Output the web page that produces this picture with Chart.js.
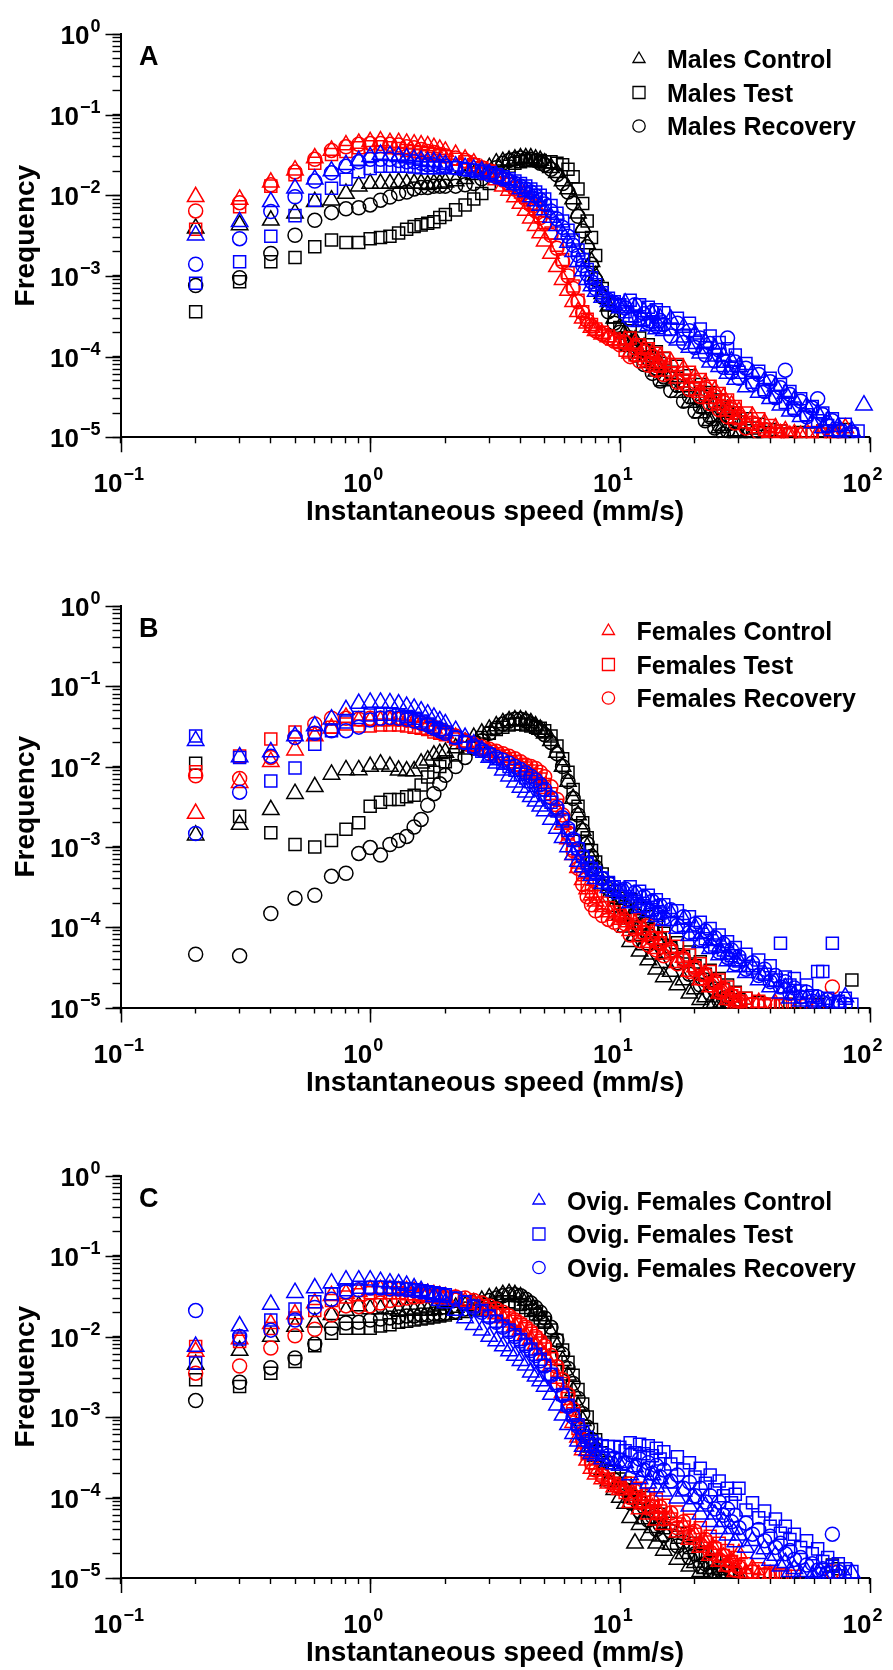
<!DOCTYPE html>
<html>
<head>
<meta charset="utf-8">
<script src="https://cdn.jsdelivr.net/npm/chart.js@4.4.1/dist/chart.umd.min.js"></script>
<style>
  html, body { margin: 0; padding: 0; background: #fff; }
  #wrap { position: relative; width: 893px; height: 1670px; }
  #wrap canvas { position: absolute; left: 0; }
</style>
</head>
<body>
<div id="wrap">
  <canvas id="chartA" width="893" height="560" style="top:0px"></canvas>
  <canvas id="chartB" width="893" height="560" style="top:570px"></canvas>
  <canvas id="chartC" width="893" height="530" style="top:1140px"></canvas>
</div>
<script>
// ----- speed classes (mm/s), shared by every series -----
const speeds = [
  0.2, 0.3, 0.4, 0.5, 0.6, 0.7, 0.8, 0.9, 1.0, 1.1, 1.2, 1.3, 1.4, 1.5, 1.6, 1.7, 1.8, 1.9, 2.0,
  2.2, 2.4, 2.6, 2.8, 3.0, 3.2, 3.4, 3.6, 3.8, 4.0, 4.2, 4.4, 4.6, 4.8, 5.0,
  5.3, 5.6, 5.9, 6.2, 6.5, 6.8, 7.1, 7.4, 7.7, 8.0,
  8.5, 9.0, 9.5, 10,
  10.5, 11, 11.5, 12, 12.5, 13, 13.5, 14, 14.5,
  15, 16, 17, 18, 19, 20, 21, 22, 23, 24, 25, 26, 27, 28, 29, 30,
  32, 34, 36, 38, 40, 42, 44, 46, 48, 50,
  53, 56, 59, 62, 65, 68, 71,
  75, 80, 85, 90, 95
];

// axis decades (10^n)
const xDecades = [-1, 0, 1, 2];
const yDecades = [-5, -4, -3, -2, -1, 0];

// ----- legends -----
const legendA = ['Males Control', 'Males Test', 'Males Recovery'];
const legendB = ['Females Control', 'Females Test', 'Females Recovery'];
const legendC = ['Ovig. Females Control', 'Ovig. Females Test', 'Ovig. Females Recovery'];

// ===== Panel A =====
const blackTriA = [
  3.9e-3, 4.3e-3, 4.9e-3, 6.0e-3, 8.3e-3, 8.7e-3, 1.05e-2, 1.3e-2, 1.4e-2, 1.4e-2, 1.4e-2, 1.45e-2, 1.4e-2, 1.4e-2, 1.4e-2, 1.35e-2, 1.4e-2, 1.4e-2, 1.45e-2,
  1.5e-2, 1.6e-2, 1.8e-2, 2.0e-2, 2.2e-2, 2.5e-2, 2.6e-2, 2.7e-2, 2.8e-2, 2.9e-2, 2.9e-2, 2.9e-2, 2.8e-2, 2.7e-2, 2.5e-2,
  2.2e-2, 1.9e-2, 1.5e-2, 1.2e-2, 9e-3, 6e-3, 4e-3, 2.5e-3, 1.5e-3, 1.0e-3,
  6e-4, 4.2e-4, 3e-4, 2.3e-4,
  2.0e-4, 1.4e-4, 1.6e-4, 1.1e-4, 1.3e-4, 8.4e-5, 1.0e-4, 6.6e-5, 7.8e-5,
  5.0e-5, 5.6e-5, 3.6e-5, 4.2e-5, 2.7e-5, 3.0e-5, 2.0e-5, 2.3e-5, 1.6e-5, 1.8e-5, 1.3e-5, 1.4e-5, 2.2e-5, 1.15e-5, 1.2e-5, 1.1e-5,
  1.05e-5, 1.1e-5, null, 1.05e-5, null, null, null, null, null, null,
  null, null, null, null, null, null, null,
  null, null, null, null, null
];
const blackSqA = [
  3.6e-4, 8.5e-4, 1.5e-3, 1.7e-3, 2.3e-3, 2.8e-3, 2.6e-3, 2.6e-3, 2.9e-3, 3.0e-3, 3.1e-3, 3.4e-3, 3.8e-3, 4.1e-3, 4.3e-3, 4.5e-3, 4.7e-3, 5.3e-3, 5.8e-3,
  6.6e-3, 7.6e-3, 9e-3, 1.05e-2, 1.4e-2, 1.75e-2, 2.0e-2, 2.3e-2, 2.5e-2, 2.6e-2, 2.7e-2, 2.7e-2, 2.7e-2, 2.7e-2, 2.6e-2,
  2.6e-2, 2.5e-2, 2.4e-2, 2.1e-2, 1.7e-2, 1.2e-2, 7.9e-3, 4.8e-3, 3e-3, 1.8e-3,
  7e-4, 4.5e-4, 3.1e-4, 2.3e-4,
  1.7e-4, 2.1e-4, 1.4e-4, 1.7e-4, 1.2e-4, 1.4e-4, 9.8e-5, 1.15e-4, 8.2e-5,
  9.5e-5, 6.4e-5, 7.6e-5, 5.0e-5, 5.8e-5, 4.0e-5, 4.5e-5, 3.2e-5, 3.6e-5, 2.6e-5, 2.9e-5, 2.1e-5, 2.4e-5, 1.8e-5, 2.0e-5, 1.55e-5,
  1.7e-5, 1.3e-5, 1.45e-5, 1.15e-5, 1.25e-5, 1.1e-5, 1.2e-5, null, 1.1e-5, null,
  1.15e-5, null, 1.1e-5, null, 1.2e-5, null, 1.1e-5,
  1.2e-5, 1.25e-5, null, null, null
];
const blackCircA = [
  7.6e-4, 9.5e-4, 1.9e-3, 3.2e-3, 4.9e-3, 6.1e-3, 6.8e-3, 7.0e-3, 7.6e-3, 8.7e-3, 9.5e-3, 1.05e-2, 1.1e-2, 1.2e-2, 1.25e-2, 1.25e-2, 1.3e-2, 1.3e-2, 1.3e-2,
  1.3e-2, 1.35e-2, 1.4e-2, 1.6e-2, 1.9e-2, 2.2e-2, 2.5e-2, 2.7e-2, 2.8e-2, 2.9e-2, 2.8e-2, 2.8e-2, 2.7e-2, 2.5e-2, 2.4e-2,
  2.1e-2, 1.8e-2, 1.4e-2, 1.1e-2, 8e-3, 5.5e-3, 3.6e-3, 2.3e-3, 1.4e-3, 9e-4,
  5.5e-4, 3.6e-4, 2.6e-4, 2e-4,
  1.4e-4, 1.7e-4, 1.05e-4, 1.25e-4, 8.0e-5, 9.4e-5, 6.2e-5, 7.2e-5, 5.0e-5,
  5.6e-5, 3.8e-5, 4.4e-5, 2.8e-5, 3.2e-5, 2.1e-5, 2.4e-5, 1.6e-5, 1.8e-5, 1.3e-5, 1.4e-5, 1.1e-5, 1.2e-5, null, 1.1e-5, null,
  null, null, null, null, null, null, null, null, null, null,
  null, null, null, null, null, null, null,
  null, null, null, null, null
];
const redTriA = [
  9.6e-3, 8.9e-3, 1.45e-2, 2.05e-2, 2.9e-2, 3.6e-2, 4.2e-2, 4.4e-2, 4.6e-2, 4.7e-2, 4.5e-2, 4.5e-2, 4.4e-2, 4.3e-2, 4.2e-2, 4.1e-2, 3.9e-2, 3.7e-2, 3.5e-2,
  3.2e-2, 2.8e-2, 2.5e-2, 2.1e-2, 1.8e-2, 1.55e-2, 1.3e-2, 1.15e-2, 9.5e-3, 7.9e-3, 6.5e-3, 5.2e-3, 4.2e-3, 3.4e-3, 2.7e-3,
  1.9e-3, 1.3e-3, 9e-4, 6.6e-4, 4.8e-4, 3.6e-4, 3.0e-4, 2.6e-4, 2.3e-4, 2.1e-4,
  1.9e-4, 1.75e-4, 1.6e-4, 1.5e-4,
  1.6e-4, 1.1e-4, 1.45e-4, 1.0e-4, 1.25e-4, 8.6e-5, 1.1e-4, 7.6e-5, 9.8e-5,
  6.6e-5, 8.6e-5, 5.4e-5, 7.0e-5, 4.4e-5, 5.6e-5, 3.6e-5, 4.6e-5, 3.0e-5, 3.8e-5, 2.5e-5, 3.1e-5, 2.1e-5, 2.5e-5, 1.7e-5, 2.1e-5,
  1.5e-5, 1.8e-5, 1.3e-5, 1.5e-5, 1.15e-5, 1.3e-5, 1.1e-5, 1.2e-5, 1.05e-5, 1.1e-5,
  1.05e-5, 1.15e-5, null, 1.1e-5, 1.05e-5, null, 1.1e-5,
  1.1e-5, 1.3e-5, null, null, null
];
const redSqA = [
  3.8e-3, 7.2e-3, 1.3e-2, 1.8e-2, 2.5e-2, 3.2e-2, 3.5e-2, 3.9e-2, 4.0e-2, 4.0e-2, 3.9e-2, 3.8e-2, 3.6e-2, 3.5e-2, 3.4e-2, 3.3e-2, 3.2e-2, 3.1e-2, 3.0e-2,
  2.8e-2, 2.6e-2, 2.4e-2, 2.2e-2, 2.0e-2, 1.8e-2, 1.6e-2, 1.4e-2, 1.25e-2, 1.1e-2, 9.5e-3, 8e-3, 6.8e-3, 5.6e-3, 4.6e-3,
  3.4e-3, 2.4e-3, 1.6e-3, 1.1e-3, 7.5e-4, 5e-4, 3.6e-4, 2.9e-4, 2.5e-4, 2.2e-4,
  2.0e-4, 1.8e-4, 1.65e-4, 1.5e-4,
  1.2e-4, 1.7e-4, 1.05e-4, 1.4e-4, 9.4e-5, 1.25e-4, 8.4e-5, 1.1e-4, 7.6e-5,
  9.6e-5, 6.2e-5, 8.0e-5, 5.0e-5, 6.4e-5, 4.0e-5, 5.2e-5, 3.4e-5, 4.3e-5, 2.8e-5, 3.5e-5, 2.4e-5, 2.9e-5, 2.0e-5, 2.4e-5, 1.7e-5,
  2.0e-5, 1.45e-5, 1.7e-5, 1.25e-5, 1.4e-5, 1.1e-5, 1.2e-5, null, 1.1e-5, null,
  1.1e-5, null, 1.15e-5, null, 1.1e-5, null, null,
  null, null, 1.1e-5, null, null
];
const redCircA = [
  6.4e-3, 8.1e-3, 1.35e-2, 1.95e-2, 2.8e-2, 3.6e-2, 4.0e-2, 4.3e-2, 4.4e-2, 4.4e-2, 4.3e-2, 4.2e-2, 4.0e-2, 3.9e-2, 3.7e-2, 3.5e-2, 3.4e-2, 3.2e-2, 3.1e-2,
  2.9e-2, 2.7e-2, 2.4e-2, 2.2e-2, 2.0e-2, 1.75e-2, 1.55e-2, 1.35e-2, 1.2e-2, 1.05e-2, 9e-3, 7.6e-3, 6.4e-3, 5.3e-3, 4.4e-3,
  3.2e-3, 2.2e-3, 1.5e-3, 1.0e-3, 7e-4, 4.8e-4, 3.5e-4, 2.8e-4, 2.4e-4, 2.1e-4,
  1.9e-4, 1.7e-4, 1.55e-4, 1.4e-4,
  1.5e-4, 1.0e-4, 1.3e-4, 8.8e-5, 1.15e-4, 7.8e-5, 1.0e-4, 6.8e-5, 8.8e-5,
  6.0e-5, 7.8e-5, 4.8e-5, 6.2e-5, 3.9e-5, 4.9e-5, 3.2e-5, 4.0e-5, 2.6e-5, 3.2e-5, 2.2e-5, 2.7e-5, 1.8e-5, 2.2e-5, 1.5e-5, 1.8e-5,
  1.3e-5, 1.5e-5, 1.15e-5, 1.25e-5, null, 1.1e-5, null, null, 1.1e-5, null,
  null, null, null, null, null, null, 1.1e-5,
  null, null, null, null, null
];
const blueTriA = [
  3.2e-3, 4.7e-3, 8.3e-3, 1.22e-2, 1.58e-2, 2.0e-2, 2.4e-2, 2.7e-2, 3.0e-2, 3.2e-2, 3.1e-2, 3.0e-2, 2.9e-2, 2.8e-2, 2.7e-2, 2.6e-2, 2.6e-2, 2.5e-2, 2.4e-2,
  2.3e-2, 2.2e-2, 2.1e-2, 2.0e-2, 1.85e-2, 1.75e-2, 1.6e-2, 1.5e-2, 1.35e-2, 1.2e-2, 1.1e-2, 9.5e-3, 8.5e-3, 7.5e-3, 6.6e-3,
  5.3e-3, 4.2e-3, 3.3e-3, 2.6e-3, 2.0e-3, 1.5e-3, 1.15e-3, 9e-4, 7.5e-4, 6.4e-4,
  5.4e-4, 4.8e-4, 4.4e-4, 4.0e-4,
  4.6e-4, 3.1e-4, 4.0e-4, 2.7e-4, 3.6e-4, 2.4e-4, 3.3e-4, 2.2e-4, 3.0e-4,
  2.1e-4, 2.9e-4, 1.6e-4, 2.3e-4, 1.3e-4, 1.9e-4, 1.1e-4, 1.5e-4, 8.5e-5, 1.25e-4, 7.5e-5, 1.0e-4, 6.2e-5, 8.8e-5, 5.2e-5, 7.5e-5,
  4.2e-5, 6.2e-5, 3.6e-5, 5.0e-5, 3.0e-5, 4.3e-5, 2.5e-5, 3.5e-5, 2.1e-5, 2.9e-5,
  1.8e-5, 2.4e-5, 1.5e-5, 2.0e-5, 1.3e-5, 1.6e-5, 1.2e-5,
  1.35e-5, 1.1e-5, 1.2e-5, null, 2.5e-5
];
const blueSqA = [
  8.1e-4, 1.5e-3, 3.1e-3, 5.6e-3, 8.7e-3, 1.22e-2, 1.58e-2, 1.96e-2, 2.15e-2, 2.3e-2, 2.3e-2, 2.3e-2, 2.3e-2, 2.25e-2, 2.2e-2, 2.2e-2, 2.2e-2, 2.2e-2, 2.2e-2,
  2.2e-2, 2.1e-2, 2.05e-2, 2.0e-2, 1.9e-2, 1.8e-2, 1.7e-2, 1.6e-2, 1.5e-2, 1.4e-2, 1.3e-2, 1.2e-2, 1.1e-2, 1.0e-2, 9e-3,
  7.5e-3, 6e-3, 4.8e-3, 3.7e-3, 2.8e-3, 2.1e-3, 1.6e-3, 1.2e-3, 9.5e-4, 7.8e-4,
  6.2e-4, 5.3e-4, 4.8e-4, 4.4e-4,
  3.6e-4, 5.0e-4, 3.2e-4, 4.4e-4, 2.9e-4, 4.1e-4, 2.7e-4, 3.8e-4, 2.5e-4,
  3.5e-4, 2.2e-4, 3.0e-4, 1.8e-4, 2.6e-4, 1.5e-4, 2.2e-4, 1.3e-4, 1.8e-4, 1.05e-4, 1.5e-4, 8.8e-5, 1.25e-4, 7.2e-5, 1.05e-4, 6.4e-5,
  8.2e-5, 4.8e-5, 6.6e-5, 3.9e-5, 5.4e-5, 3.2e-5, 4.5e-5, 2.7e-5, 3.7e-5, 2.3e-5,
  3.0e-5, 1.9e-5, 2.4e-5, 1.6e-5, 2.0e-5, 1.4e-5, 1.7e-5,
  1.2e-5, 1.45e-5, 1.1e-5, 1.2e-5, null
];
const blueCircA = [
  1.4e-3, 2.9e-3, 6.3e-3, 9.6e-3, 1.5e-2, 1.9e-2, 2.3e-2, 2.6e-2, 2.8e-2, 2.8e-2, 2.8e-2, 2.7e-2, 2.6e-2, 2.6e-2, 2.5e-2, 2.4e-2, 2.4e-2, 2.3e-2, 2.3e-2,
  2.2e-2, 2.1e-2, 2.0e-2, 1.9e-2, 1.8e-2, 1.7e-2, 1.6e-2, 1.5e-2, 1.4e-2, 1.3e-2, 1.2e-2, 1.1e-2, 9.8e-3, 8.8e-3, 7.8e-3,
  6.4e-3, 5.1e-3, 4e-3, 3.1e-3, 2.4e-3, 1.8e-3, 1.35e-3, 1.05e-3, 8.5e-4, 7e-4,
  5.8e-4, 5e-4, 4.6e-4, 4.2e-4,
  4.0e-4, 2.9e-4, 4.4e-4, 3.0e-4, 3.4e-4, 2.6e-4, 3.6e-4, 2.4e-4, 2.8e-4,
  2.5e-4, 1.8e-4, 2.6e-4, 1.5e-4, 2.1e-4, 1.3e-4, 1.7e-4, 1.05e-4, 1.45e-4, 8.8e-5, 1.2e-4, 7.4e-5, 1.7e-4, 6.4e-5, 8.6e-5, 5.4e-5,
  7.2e-5, 4.5e-5, 6.0e-5, 3.7e-5, 4.9e-5, 3.1e-5, 4.1e-5, 6.8e-5, 3.4e-5, 2.2e-5,
  2.8e-5, 1.8e-5, 2.3e-5, 3.0e-5, 1.9e-5, 1.4e-5, 1.6e-5,
  1.25e-5, null, 1.15e-5, null, null
];

// ===== Panel B =====
const blackTriB = [
  1.4e-3, 1.9e-3, 2.9e-3, 4.6e-3, 5.6e-3, 8.0e-3, 9.1e-3, 9.1e-3, 1.0e-2, 1.07e-2, 1.0e-2, 9e-3, 8.8e-3, 8.8e-3, 1.1e-2, 1.2e-2, 1.38e-2, 1.45e-2, 1.5e-2,
  1.7e-2, 2.0e-2, 2.3e-2, 2.6e-2, 2.9e-2, 3.2e-2, 3.5e-2, 3.7e-2, 3.8e-2, 3.8e-2, 3.7e-2, 3.5e-2, 3.2e-2, 2.9e-2, 2.6e-2,
  2.1e-2, 1.5e-2, 1.0e-2, 6.5e-3, 4e-3, 2.5e-3, 1.6e-3, 1.0e-3, 7e-4, 5e-4,
  3.3e-4, 2.4e-4, 1.8e-4, 1.4e-4,
  1.0e-4, 6.6e-5, 7.8e-5, 5.0e-5, 6.0e-5, 3.9e-5, 4.6e-5, 3.0e-5, 3.6e-5,
  2.4e-5, 2.8e-5, 1.9e-5, 2.2e-5, 1.5e-5, 1.7e-5, 1.25e-5, 1.35e-5, 1.1e-5, 1.15e-5, 1.05e-5, 1.1e-5, 1.05e-5, null, 1.05e-5, null,
  null, null, null, null, null, null, null, null, null, null,
  null, null, null, null, null, null, null,
  null, null, null, null, null
];
const blackSqB = [
  1.1e-2, 2.4e-3, 1.5e-3, 1.07e-3, 1.0e-3, 1.2e-3, 1.66e-3, 2.0e-3, 3.2e-3, 3.6e-3, 3.9e-3, 3.9e-3, 4.2e-3, 4.4e-3, 5.9e-3, 7.4e-3, 8.5e-3, 1.0e-2, 1.15e-2,
  1.4e-2, 1.7e-2, 2.0e-2, 2.3e-2, 2.6e-2, 2.9e-2, 3.1e-2, 3.3e-2, 3.4e-2, 3.4e-2, 3.3e-2, 3.2e-2, 3.1e-2, 3.0e-2, 2.8e-2,
  2.4e-2, 1.8e-2, 1.25e-2, 8.5e-3, 5.2e-3, 3.2e-3, 2.0e-3, 1.3e-3, 9e-4, 6.5e-4,
  4.6e-4, 3.5e-4, 2.8e-4, 2.3e-4,
  1.8e-4, 2.2e-4, 1.4e-4, 1.7e-4, 1.1e-4, 1.35e-4, 9.0e-5, 1.05e-4, 7.4e-5,
  8.4e-5, 5.6e-5, 6.4e-5, 4.3e-5, 4.9e-5, 3.3e-5, 3.7e-5, 2.6e-5, 2.9e-5, 2.1e-5, 2.3e-5, 1.7e-5, 1.9e-5, 1.4e-5, 1.55e-5, 1.25e-5,
  1.3e-5, 1.1e-5, 1.15e-5, null, 1.1e-5, null, null, null, 1.1e-5, null,
  null, null, null, 1.1e-5, null, null, null,
  null, null, 2.2e-5, null, null
];
const blackCircB = [
  4.6e-5, 4.4e-5, 1.48e-4, 2.3e-4, 2.5e-4, 4.3e-4, 4.7e-4, 8.3e-4, 9.8e-4, 7.9e-4, 1.07e-3, 1.2e-3, 1.35e-3, 1.77e-3, 2.2e-3, 3.3e-3, 4.6e-3, 6.1e-3, 7.8e-3,
  1.0e-2, 1.3e-2, 1.7e-2, 2.1e-2, 2.6e-2, 3.0e-2, 3.4e-2, 3.7e-2, 3.9e-2, 3.9e-2, 3.7e-2, 3.4e-2, 3.1e-2, 2.8e-2, 2.5e-2,
  2.0e-2, 1.45e-2, 1.0e-2, 6.5e-3, 4e-3, 2.5e-3, 1.6e-3, 1.1e-3, 7.6e-4, 5.6e-4,
  4e-4, 3e-4, 2.4e-4, 2e-4,
  1.7e-4, 1.25e-4, 1.45e-4, 1.0e-4, 1.15e-4, 8.0e-5, 9.0e-5, 6.4e-5, 7.2e-5,
  5.0e-5, 5.6e-5, 3.6e-5, 4.0e-5, 2.6e-5, 2.9e-5, 1.9e-5, 2.2e-5, 1.5e-5, 1.7e-5, 1.2e-5, 1.3e-5, 1.1e-5, null, null, null,
  null, null, null, null, null, null, null, null, null, null,
  null, null, null, null, null, null, null,
  null, null, null, null, null
];
const redTriB = [
  2.6e-3, 6.3e-3, 1.15e-2, 1.6e-2, 2.4e-2, 3.0e-2, 4.1e-2, 3.7e-2, 3.7e-2, 3.7e-2, 3.7e-2, 3.8e-2, 3.7e-2, 3.6e-2, 3.4e-2, 3.2e-2, 3.0e-2, 2.8e-2, 2.6e-2,
  2.3e-2, 2.0e-2, 1.8e-2, 1.65e-2, 1.5e-2, 1.4e-2, 1.3e-2, 1.2e-2, 1.1e-2, 1.0e-2, 9e-3, 8.2e-3, 7.2e-3, 6.2e-3, 5.3e-3,
  4e-3, 2.8e-3, 1.9e-3, 1.25e-3, 8e-4, 5.5e-4, 3.9e-4, 3e-4, 2.5e-4, 2.1e-4,
  1.8e-4, 1.55e-4, 1.4e-4, 1.25e-4,
  1.3e-4, 9.0e-5, 1.1e-4, 7.6e-5, 9.2e-5, 6.4e-5, 7.8e-5, 5.4e-5, 6.6e-5,
  4.6e-5, 5.4e-5, 3.6e-5, 4.2e-5, 2.8e-5, 3.2e-5, 2.2e-5, 2.5e-5, 1.8e-5, 2.0e-5, 1.5e-5, 1.6e-5, 1.25e-5, 1.35e-5, 1.1e-5, 1.2e-5,
  1.1e-5, null, 1.15e-5, null, null, 1.1e-5, null, null, null, null,
  null, null, null, null, null, null, null,
  null, null, null, null, null
];
const redSqB = [
  8.6e-3, 1.35e-2, 2.2e-2, 2.7e-2, 2.6e-2, 3.1e-2, 3.4e-2, 3.2e-2, 3.2e-2, 3.3e-2, 3.3e-2, 3.3e-2, 3.2e-2, 3.1e-2, 3.0e-2, 2.9e-2, 2.7e-2, 2.6e-2, 2.5e-2,
  2.2e-2, 2.0e-2, 1.8e-2, 1.65e-2, 1.55e-2, 1.45e-2, 1.35e-2, 1.25e-2, 1.15e-2, 1.05e-2, 9.6e-3, 8.8e-3, 7.9e-3, 7e-3, 6e-3,
  4.6e-3, 3.3e-3, 2.2e-3, 1.45e-3, 9.5e-4, 6.5e-4, 4.5e-4, 3.4e-4, 2.8e-4, 2.4e-4,
  2e-4, 1.75e-4, 1.55e-4, 1.4e-4,
  1.2e-4, 1.5e-4, 1.0e-4, 1.25e-4, 8.6e-5, 1.05e-4, 7.4e-5, 9.0e-5, 6.4e-5,
  7.4e-5, 5.0e-5, 5.8e-5, 3.9e-5, 4.5e-5, 3.1e-5, 3.5e-5, 2.5e-5, 2.8e-5, 2.0e-5, 2.2e-5, 1.65e-5, 1.8e-5, 1.4e-5, 1.5e-5, 1.2e-5,
  1.3e-5, 1.1e-5, 1.2e-5, 1.05e-5, 1.1e-5, null, 1.05e-5, 1.1e-5, null, 1.05e-5,
  1.05e-5, 1.1e-5, null, 1.05e-5, null, null, null,
  null, null, null, null, null
];
const redCircB = [
  7.7e-3, 7.1e-3, 1.3e-2, 2.3e-2, 3.4e-2, 4.0e-2, 4.0e-2, 3.9e-2, 4.0e-2, 4.0e-2, 4.0e-2, 3.9e-2, 3.8e-2, 3.7e-2, 3.5e-2, 3.3e-2, 3.1e-2, 2.9e-2, 2.7e-2,
  2.4e-2, 2.1e-2, 1.9e-2, 1.75e-2, 1.65e-2, 1.55e-2, 1.45e-2, 1.35e-2, 1.25e-2, 1.15e-2, 1.05e-2, 1.0e-2, 9.5e-3, 8.5e-3, 7.5e-3,
  5.6e-3, 3.9e-3, 2.5e-3, 1.5e-3, 9e-4, 5.4e-4, 3.4e-4, 2.4e-4, 1.9e-4, 1.6e-4,
  1.4e-4, 1.25e-4, 1.15e-4, 1.05e-4,
  1.1e-4, 8.0e-5, 9.6e-5, 6.8e-5, 8.4e-5, 6.0e-5, 7.2e-5, 5.2e-5, 6.2e-5,
  4.4e-5, 5.2e-5, 3.5e-5, 4.1e-5, 2.8e-5, 3.2e-5, 2.3e-5, 2.6e-5, 1.9e-5, 2.1e-5, 1.55e-5, 1.7e-5, 1.3e-5, 1.4e-5, 1.15e-5, 1.2e-5,
  null, 1.1e-5, null, 1.1e-5, null, null, null, null, null, null,
  null, null, null, null, null, null, 1.8e-5,
  null, null, null, null, null
];
const blueTriB = [
  2.1e-2, 1.32e-2, 1.52e-2, 2.4e-2, 3.2e-2, 3.9e-2, 5.1e-2, 6.1e-2, 6.3e-2, 6.3e-2, 6.2e-2, 6.0e-2, 5.6e-2, 5.3e-2, 4.9e-2, 4.5e-2, 4.1e-2, 3.7e-2, 3.4e-2,
  2.8e-2, 2.3e-2, 1.9e-2, 1.6e-2, 1.3e-2, 1.1e-2, 9e-3, 7.6e-3, 6.4e-3, 5.5e-3, 4.8e-3, 4.2e-3, 3.7e-3, 3.2e-3, 2.8e-3,
  2.2e-3, 1.7e-3, 1.3e-3, 1.0e-3, 8e-4, 6.6e-4, 5.6e-4, 4.9e-4, 4.4e-4, 4e-4,
  3.5e-4, 3.1e-4, 2.8e-4, 2.6e-4,
  2.8e-4, 2.0e-4, 2.5e-4, 1.75e-4, 2.2e-4, 1.55e-4, 1.95e-4, 1.35e-4, 1.7e-4,
  1.2e-4, 1.5e-4, 9.6e-5, 1.25e-4, 7.8e-5, 1.0e-4, 6.4e-5, 8.2e-5, 5.4e-5, 6.8e-5, 4.5e-5, 5.6e-5, 3.8e-5, 4.6e-5, 3.2e-5, 3.8e-5,
  2.7e-5, 3.2e-5, 2.2e-5, 2.6e-5, 1.8e-5, 2.1e-5, 1.5e-5, 1.75e-5, 1.3e-5, 1.45e-5,
  1.2e-5, 1.3e-5, 1.1e-5, 1.2e-5, null, 1.1e-5, null,
  1.1e-5, 1.35e-5, null, null, null
];
const blueSqB = [
  2.4e-2, 1.3e-2, 6.6e-3, 9.6e-3, 1.9e-2, 2.8e-2, 3.6e-2, 4.1e-2, 4.4e-2, 4.5e-2, 4.5e-2, 4.4e-2, 4.2e-2, 4.0e-2, 3.7e-2, 3.4e-2, 3.1e-2, 2.9e-2, 2.7e-2,
  2.3e-2, 2.0e-2, 1.75e-2, 1.55e-2, 1.4e-2, 1.25e-2, 1.1e-2, 1.0e-2, 9e-3, 8e-3, 7.2e-3, 6.5e-3, 5.8e-3, 5.1e-3, 4.5e-3,
  3.6e-3, 2.8e-3, 2.1e-3, 1.6e-3, 1.2e-3, 9.5e-4, 7.6e-4, 6.3e-4, 5.4e-4, 4.8e-4,
  4.1e-4, 3.6e-4, 3.2e-4, 2.9e-4,
  2.4e-4, 3.2e-4, 2.1e-4, 2.8e-4, 1.85e-4, 2.5e-4, 1.65e-4, 2.2e-4, 1.5e-4,
  1.9e-4, 1.25e-4, 1.6e-4, 1.05e-4, 1.35e-4, 8.6e-5, 1.15e-4, 7.2e-5, 9.6e-5, 6.0e-5, 8.0e-5, 5.2e-5, 6.6e-5, 4.4e-5, 5.6e-5, 3.8e-5,
  4.6e-5, 3.1e-5, 3.9e-5, 2.6e-5, 3.3e-5, 2.2e-5, 6.3e-5, 2.4e-5, 1.9e-5, 2.3e-5,
  1.6e-5, 1.9e-5, 1.4e-5, 2.8e-5, 2.8e-5, 1.3e-5, 6.3e-5,
  1.2e-5, 1.3e-5, 1.1e-5, null, null
];
const blueCircB = [
  1.47e-3, 4.8e-3, 1.35e-2, 2.3e-2, 2.6e-2, 2.8e-2, 2.8e-2, 3.1e-2, 3.8e-2, 4.0e-2, 4.1e-2, 4.0e-2, 3.9e-2, 3.7e-2, 3.5e-2, 3.3e-2, 3.0e-2, 2.8e-2, 2.6e-2,
  2.3e-2, 2.0e-2, 1.8e-2, 1.6e-2, 1.45e-2, 1.3e-2, 1.2e-2, 1.1e-2, 1.0e-2, 9.2e-3, 8.4e-3, 7.6e-3, 6.8e-3, 6e-3, 5.2e-3,
  4.1e-3, 3.1e-3, 2.3e-3, 1.7e-3, 1.25e-3, 9.5e-4, 7.5e-4, 6.2e-4, 5.3e-4, 4.7e-4,
  4e-4, 3.5e-4, 3.1e-4, 2.8e-4,
  3.0e-4, 2.2e-4, 2.7e-4, 1.9e-4, 2.4e-4, 1.7e-4, 2.1e-4, 1.5e-4, 1.85e-4,
  1.3e-4, 1.65e-4, 1.05e-4, 1.35e-4, 8.6e-5, 1.1e-4, 7.0e-5, 9.0e-5, 5.8e-5, 7.4e-5, 4.9e-5, 6.2e-5, 4.2e-5, 5.2e-5, 3.5e-5, 4.3e-5,
  3.0e-5, 3.6e-5, 2.5e-5, 3.0e-5, 2.1e-5, 2.5e-5, 1.8e-5, 2.1e-5, 1.5e-5, 1.75e-5,
  1.35e-5, 1.55e-5, 1.2e-5, 1.35e-5, 1.15e-5, 1.25e-5, 1.1e-5,
  1.15e-5, 1.1e-5, null, null, null
];

// ===== Panel C =====
const blackTriC = [
  4.5e-3, 6.7e-3, 1.0e-2, 1.33e-2, 1.5e-2, 1.86e-2, 2.1e-2, 2.4e-2, 2.2e-2, 2.2e-2, 2.2e-2, 2.1e-2, 2.1e-2, 2.1e-2, 2.1e-2, 2.1e-2, 2.15e-2, 2.2e-2, 2.2e-2,
  2.3e-2, 2.4e-2, 2.6e-2, 2.8e-2, 3.0e-2, 3.1e-2, 3.3e-2, 3.4e-2, 3.3e-2, 3.1e-2, 2.8e-2, 2.5e-2, 2.1e-2, 1.8e-2, 1.5e-2,
  1.1e-2, 7.5e-3, 5e-3, 3.3e-3, 2.1e-3, 1.35e-3, 9e-4, 6e-4, 4.2e-4, 3.2e-4,
  2.2e-4, 1.6e-4, 1.25e-4, 1e-4,
  8.4e-5, 5.6e-5, 2.7e-5, 4.6e-5, 5.4e-5, 3.4e-5, 4.2e-5, 2.7e-5, 3.3e-5,
  2.2e-5, 2.6e-5, 1.7e-5, 2.0e-5, 1.4e-5, 1.55e-5, 1.2e-5, 1.3e-5, 1.1e-5, 1.05e-5, 1.1e-5, 1.05e-5, null, 1.05e-5, null, 1.05e-5,
  null, null, null, null, null, null, null, null, null, null,
  null, null, null, null, null, null, null,
  null, null, null, null, null
];
const blackSqC = [
  2.9e-3, 2.4e-3, 3.5e-3, 4.9e-3, 7.7e-3, 1.1e-2, 1.27e-2, 1.27e-2, 1.27e-2, 1.35e-2, 1.4e-2, 1.5e-2, 1.55e-2, 1.6e-2, 1.65e-2, 1.7e-2, 1.75e-2, 1.8e-2, 1.85e-2,
  1.95e-2, 2.05e-2, 2.2e-2, 2.35e-2, 2.5e-2, 2.6e-2, 2.7e-2, 2.7e-2, 2.6e-2, 2.5e-2, 2.3e-2, 2.1e-2, 1.9e-2, 1.7e-2, 1.5e-2,
  1.2e-2, 9e-3, 6.8e-3, 4.8e-3, 3.3e-3, 2.2e-3, 1.45e-3, 1e-3, 7e-4, 5.2e-4,
  3.6e-4, 2.7e-4, 2.1e-4, 1.7e-4,
  1.5e-4, 1.1e-4, 1.25e-4, 8.6e-5, 1.0e-4, 6.8e-5, 7.8e-5, 5.4e-5, 6.2e-5,
  4.2e-5, 4.8e-5, 3.2e-5, 3.6e-5, 2.4e-5, 2.7e-5, 1.9e-5, 2.1e-5, 1.55e-5, 1.7e-5, 1.3e-5, 1.4e-5, 1.15e-5, 1.2e-5, 1.1e-5, null,
  1.1e-5, null, null, 1.1e-5, null, null, null, null, null, null,
  null, null, null, null, null, null, 1.45e-5,
  1.3e-5, null, null, null, null
];
const blackCircC = [
  1.6e-3, 2.7e-3, 4.1e-3, 5.4e-3, 8.1e-3, 1.27e-2, 1.47e-2, 1.5e-2, 1.6e-2, 1.65e-2, 1.7e-2, 1.75e-2, 1.8e-2, 1.8e-2, 1.85e-2, 1.85e-2, 1.9e-2, 1.9e-2, 1.95e-2,
  2.05e-2, 2.2e-2, 2.4e-2, 2.6e-2, 2.8e-2, 3.0e-2, 3.2e-2, 3.3e-2, 3.3e-2, 3.2e-2, 2.9e-2, 2.6e-2, 2.3e-2, 2.0e-2, 1.7e-2,
  1.3e-2, 9e-3, 6e-3, 4e-3, 2.6e-3, 1.7e-3, 1.1e-3, 7.5e-4, 5.3e-4, 4e-4,
  2.8e-4, 2.1e-4, 1.65e-4, 1.35e-4,
  1.25e-4, 8.6e-5, 1.0e-4, 6.8e-5, 7.6e-5, 5.2e-5, 5.8e-5, 4.0e-5, 4.6e-5,
  3.4e-5, 3.8e-5, 2.5e-5, 2.8e-5, 1.8e-5, 2.0e-5, 1.4e-5, 1.5e-5, 1.15e-5, 1.2e-5, 1.1e-5, null, null, null, null, null,
  null, null, null, null, null, null, null, null, null, null,
  null, null, null, null, null, null, null,
  null, null, null, null, null
];
const redTriC = [
  6.5e-3, 9.3e-3, 1.44e-2, 1.9e-2, 2.6e-2, 3.2e-2, 3.4e-2, 3.6e-2, 3.8e-2, 3.8e-2, 3.8e-2, 3.7e-2, 3.7e-2, 3.6e-2, 3.5e-2, 3.4e-2, 3.3e-2, 3.2e-2, 3.1e-2,
  2.9e-2, 2.7e-2, 2.5e-2, 2.3e-2, 2.1e-2, 1.9e-2, 1.7e-2, 1.5e-2, 1.35e-2, 1.2e-2, 1.05e-2, 9.2e-3, 8e-3, 6.8e-3, 5.8e-3,
  4.3e-3, 3.0e-3, 2.0e-3, 1.3e-3, 8.5e-4, 5.6e-4, 3.9e-4, 2.9e-4, 2.3e-4, 1.95e-4,
  1.7e-4, 1.5e-4, 1.35e-4, 1.25e-4,
  1.25e-4, 8.6e-5, 1.05e-4, 7.2e-5, 8.8e-5, 6.2e-5, 7.4e-5, 5.2e-5, 6.2e-5,
  4.6e-5, 5.6e-5, 3.7e-5, 4.4e-5, 3.0e-5, 3.4e-5, 2.4e-5, 2.7e-5, 1.9e-5, 2.2e-5, 1.6e-5, 1.8e-5, 1.4e-5, 1.6e-5, 1.2e-5, 2.0e-5,
  1.15e-5, 1.3e-5, 1.1e-5, null, 1.1e-5, null, null, null, null, null,
  null, null, null, null, null, null, null,
  null, null, null, null, null
];
const redSqC = [
  7.5e-3, 8.7e-3, 1.26e-2, 1.7e-2, 2.1e-2, 2.8e-2, 3.1e-2, 3.3e-2, 3.5e-2, 3.5e-2, 3.5e-2, 3.5e-2, 3.4e-2, 3.4e-2, 3.3e-2, 3.2e-2, 3.2e-2, 3.1e-2, 3.0e-2,
  2.9e-2, 2.7e-2, 2.6e-2, 2.4e-2, 2.2e-2, 2.0e-2, 1.85e-2, 1.7e-2, 1.55e-2, 1.4e-2, 1.25e-2, 1.1e-2, 9.6e-3, 8.3e-3, 7e-3,
  5.3e-3, 3.8e-3, 2.6e-3, 1.7e-3, 1.1e-3, 7.2e-4, 4.9e-4, 3.5e-4, 2.7e-4, 2.2e-4,
  1.9e-4, 1.7e-4, 1.5e-4, 1.4e-4,
  1.15e-4, 1.5e-4, 1.0e-4, 1.3e-4, 8.8e-5, 1.1e-4, 7.8e-5, 9.6e-5, 6.8e-5,
  8.0e-5, 5.4e-5, 6.6e-5, 4.3e-5, 5.2e-5, 3.5e-5, 4.2e-5, 2.8e-5, 3.3e-5, 2.3e-5, 2.7e-5, 1.9e-5, 2.2e-5, 1.6e-5, 1.8e-5, 1.4e-5,
  1.5e-5, 1.2e-5, 1.3e-5, 1.1e-5, 1.15e-5, 1.05e-5, 1.1e-5, 1.05e-5, null, 1.05e-5,
  null, null, null, null, null, null, null,
  null, null, null, null, null
];
const redCircC = [
  3.5e-3, 4.3e-3, 7.2e-3, 1.02e-2, 1.23e-2, 1.85e-2, 2.4e-2, 2.35e-2, 2.4e-2, 2.6e-2, 2.8e-2, 2.9e-2, 3.0e-2, 3.1e-2, 3.15e-2, 3.2e-2, 3.2e-2, 3.2e-2, 3.2e-2,
  3.1e-2, 3.0e-2, 2.8e-2, 2.6e-2, 2.4e-2, 2.2e-2, 2.0e-2, 1.8e-2, 1.6e-2, 1.45e-2, 1.3e-2, 1.15e-2, 1.0e-2, 8.8e-3, 7.6e-3,
  5.8e-3, 4.2e-3, 2.9e-3, 1.9e-3, 1.25e-3, 8e-4, 5.2e-4, 3.6e-4, 2.7e-4, 2.2e-4,
  1.85e-4, 1.6e-4, 1.45e-4, 1.3e-4,
  1.4e-4, 1.0e-4, 1.2e-4, 8.6e-5, 1.05e-4, 7.4e-5, 8.8e-5, 6.4e-5, 7.6e-5,
  5.4e-5, 6.4e-5, 4.2e-5, 5.0e-5, 3.3e-5, 3.8e-5, 2.6e-5, 3.0e-5, 2.1e-5, 2.4e-5, 1.7e-5, 1.9e-5, 1.45e-5, 1.6e-5, 1.25e-5, 1.35e-5,
  1.1e-5, 1.2e-5, null, 1.1e-5, null, null, null, null, null, null,
  null, null, null, null, null, null, 1.2e-5,
  null, null, null, null, null
];
const blueTriC = [
  7.5e-3, 1.35e-2, 2.5e-2, 3.5e-2, 4.0e-2, 4.6e-2, 5.0e-2, 5.0e-2, 5.0e-2, 4.8e-2, 4.6e-2, 4.5e-2, 4.3e-2, 4.0e-2, 3.7e-2, 3.4e-2, 3.1e-2, 2.8e-2, 2.6e-2,
  2.1e-2, 1.7e-2, 1.4e-2, 1.2e-2, 1.0e-2, 8.8e-3, 7.6e-3, 6.6e-3, 5.8e-3, 5e-3, 4.4e-3, 3.6e-3, 3.2e-3, 2.8e-3, 2.4e-3,
  1.9e-3, 1.4e-3, 1.05e-3, 8e-4, 6.2e-4, 5e-4, 4.3e-4, 3.8e-4, 3.5e-4, 3.3e-4,
  3e-4, 2.8e-4, 2.6e-4, 2.5e-4,
  2.7e-4, 1.9e-4, 2.4e-4, 1.7e-4, 2.1e-4, 1.5e-4, 1.9e-4, 1.35e-4, 1.7e-4,
  1.2e-4, 1.5e-4, 9.8e-5, 1.2e-4, 7.8e-5, 9.6e-5, 6.2e-5, 7.8e-5, 5.0e-5, 6.2e-5, 4.1e-5, 5.0e-5, 3.4e-5, 4.1e-5, 2.8e-5, 3.4e-5,
  2.4e-5, 2.9e-5, 2.0e-5, 2.3e-5, 1.65e-5, 1.9e-5, 1.4e-5, 1.55e-5, 1.2e-5, 1.3e-5,
  1.1e-5, 1.2e-5, 1.05e-5, 1.15e-5, 1.05e-5, 1.1e-5, null,
  1.1e-5, 1.05e-5, 1.15e-5, null, null
];
const blueSqC = [
  4.7e-3, 9.3e-3, 1.6e-2, 2.2e-2, 2.7e-2, 3.4e-2, 3.8e-2, 4.1e-2, 4.1e-2, 4.1e-2, 4.1e-2, 4.0e-2, 3.9e-2, 3.8e-2, 3.7e-2, 3.6e-2, 3.5e-2, 3.4e-2, 3.3e-2,
  3.0e-2, 2.7e-2, 2.4e-2, 2.1e-2, 1.8e-2, 1.55e-2, 1.35e-2, 1.2e-2, 1.05e-2, 9.2e-3, 8e-3, 7e-3, 6e-3, 5.2e-3, 4.4e-3,
  3.4e-3, 2.6e-3, 1.9e-3, 1.4e-3, 1.05e-3, 8e-4, 6.6e-4, 5.6e-4, 5e-4, 4.6e-4,
  4.4e-4, 4.3e-4, 4.3e-4, 4.2e-4,
  3.8e-4, 4.8e-4, 3.6e-4, 4.6e-4, 3.5e-4, 4.4e-4, 3.3e-4, 4.1e-4, 3.0e-4,
  3.7e-4, 2.6e-4, 3.2e-4, 2.2e-4, 2.7e-4, 1.8e-4, 2.3e-4, 1.5e-4, 1.9e-4, 1.25e-4, 1.6e-4, 1.05e-4, 1.3e-4, 8.6e-5, 1.1e-4, 1.3e-4,
  7.0e-5, 8.6e-5, 5.6e-5, 6.8e-5, 4.4e-5, 5.4e-5, 3.6e-5, 4.4e-5, 3.0e-5, 3.5e-5,
  2.4e-5, 2.9e-5, 2.0e-5, 2.3e-5, 1.6e-5, 1.8e-5, 1.4e-5,
  1.5e-5, 1.3e-5, 1.2e-5, null, null
];
const blueCircC = [
  2.1e-2, 1.0e-2, 1.2e-2, 1.6e-2, 2.3e-2, 2.9e-2, 3.6e-2, 3.8e-2, 4.0e-2, 4.0e-2, 3.9e-2, 3.9e-2, 3.8e-2, 3.7e-2, 3.6e-2, 3.5e-2, 3.4e-2, 3.3e-2, 3.2e-2,
  2.9e-2, 2.6e-2, 2.3e-2, 2.0e-2, 1.75e-2, 1.5e-2, 1.3e-2, 1.15e-2, 1.0e-2, 8.8e-3, 7.7e-3, 6.7e-3, 5.8e-3, 5e-3, 4.3e-3,
  3.3e-3, 2.5e-3, 1.85e-3, 1.35e-3, 1e-3, 7.6e-4, 6e-4, 5e-4, 4.3e-4, 3.9e-4,
  3.5e-4, 3.3e-4, 3.1e-4, 2.9e-4,
  2.7e-4, 3.4e-4, 2.4e-4, 3.0e-4, 2.2e-4, 2.7e-4, 2.0e-4, 2.5e-4, 1.8e-4,
  2.2e-4, 1.6e-4, 1.9e-4, 1.3e-4, 1.55e-4, 1.05e-4, 1.3e-4, 8.8e-5, 1.05e-4, 7.2e-5, 8.8e-5, 6.0e-5, 7.2e-5, 5.0e-5, 6.0e-5, 4.2e-5,
  4.8e-5, 3.5e-5, 4.0e-5, 2.9e-5, 3.3e-5, 2.4e-5, 2.7e-5, 2.0e-5, 2.2e-5, 1.7e-5,
  1.8e-5, 1.45e-5, 1.5e-5, 1.25e-5, 1.3e-5, 1.15e-5, 3.5e-5,
  1.2e-5, null, null, null, null
];

// ----- styles -----
const FONT = "'Liberation Sans', Arial, Helvetica, sans-serif";
const BLACK = '#000000', RED = '#ff0000', BLUE = '#0000ff';
const markerRadius = { triangle: 9.5, rect: 8.5, circle: 7 };
const legendRadius = { triangle: 7, rect: 8.5, circle: 6.2 };

function logTicks(decades) {
  const t = [];
  for (let i = 0; i < decades.length - 1; i++) {
    for (let m = 1; m < 10; m++) t.push(m * Math.pow(10, decades[i]));
  }
  t.push(Math.pow(10, decades[decades.length - 1]));
  return t;
}
const xTickValues = logTicks(xDecades);
const yTickValues = logTicks(yDecades);

function series(label, values, shape, color, order) {
  if (values.length !== speeds.length) throw new Error(label + ': ' + values.length + ' values');
  return {
    label: label,
    data: speeds.map((x, i) => ({ x: x, y: values[i] })).filter(p => p.y != null),
    pointStyle: shape,
    pointRadius: markerRadius[shape],
    pointHoverRadius: markerRadius[shape],
    pointBorderWidth: 1.5,
    pointBorderColor: color,
    pointBackgroundColor: 'rgba(0,0,0,0)',
    borderColor: color,
    backgroundColor: 'rgba(0,0,0,0)',
    showLine: false,
    order: order,
    clip: { left: 20, top: 20, right: 20, bottom: 1 }
  };
}

// "10" with a raised exponent; anchor is 'base' (x = right edge of "10") or 'end' (x = right edge of label)
function powerLabel(ctx, e, x, y, anchor) {
  const exp = e < 0 ? '\u2212' + (-e) : String(e);
  ctx.font = 'bold 26px ' + FONT;
  const wb = ctx.measureText('10').width;
  ctx.font = 'bold 18px ' + FONT;
  const we = ctx.measureText(exp).width;
  const x0 = anchor === 'end' ? x - wb - we - 1 : x - wb;
  ctx.font = 'bold 26px ' + FONT;
  ctx.fillText('10', x0, y);
  ctx.font = 'bold 18px ' + FONT;
  ctx.fillText(exp, x0 + wb + 1, y - 12);
}

function drawMarker(ctx, style, r, x, y, color) {
  ctx.save();
  ctx.strokeStyle = color;
  ctx.fillStyle = 'rgba(0,0,0,0)';
  ctx.lineWidth = 1.3;
  Chart.helpers.drawPoint(ctx, { pointStyle: style, radius: r, borderWidth: 1.3, rotation: 0 }, x, y);
  ctx.restore();
}

const axisDeco = {
  id: 'axisDeco',
  afterDraw(chart, args, o) {
    const ctx = chart.ctx, a = chart.chartArea;
    const xs = chart.scales.x, ys = chart.scales.y;
    ctx.save();
    ctx.strokeStyle = '#000';
    ctx.fillStyle = '#000';
    ctx.lineWidth = 1.5;
    // long major ticks
    ctx.beginPath();
    xDecades.forEach(e => {
      const p = Math.round(xs.getPixelForValue(Math.pow(10, e))) + 0.5;
      ctx.moveTo(p, a.bottom); ctx.lineTo(p, a.bottom + 15);
    });
    yDecades.forEach(e => {
      const p = Math.round(ys.getPixelForValue(Math.pow(10, e))) + 0.5;
      ctx.moveTo(a.left - 15, p); ctx.lineTo(a.left, p);
    });
    ctx.stroke();

    // tick labels
    ctx.textAlign = 'left';
    ctx.textBaseline = 'alphabetic';
    xDecades.forEach(e => powerLabel(ctx, e, xs.getPixelForValue(Math.pow(10, e)) + 2, a.bottom + 55, 'base'));
    yDecades.forEach(e => powerLabel(ctx, e, a.left - 20, ys.getPixelForValue(Math.pow(10, e)) + 10, 'end'));

    // axis titles
    ctx.font = 'bold 28px ' + FONT;
    ctx.textAlign = 'center';
    ctx.fillText('Instantaneous speed (mm/s)', (a.left + a.right) / 2, a.bottom + 83);
    ctx.save();
    ctx.translate(34, (a.top + a.bottom) / 2);
    ctx.rotate(-Math.PI / 2);
    ctx.fillText('Frequency', 0, 0);
    ctx.restore();

    // panel letter
    ctx.textAlign = 'left';
    ctx.font = 'bold 27px ' + FONT;
    ctx.fillText(o.letter, 139, a.top + 31);

    // legend (one group per panel)
    ctx.font = 'bold 25px ' + FONT;
    const widest = Math.max.apply(null, o.labels.map(t => ctx.measureText(t).width));
    const textLeft = 856 - widest;
    const styles = ['triangle', 'rect', 'circle'];
    o.labels.forEach((t, i) => {
      const cy = a.top + 25 + i * 33.5;
      drawMarker(ctx, styles[i], legendRadius[styles[i]], textLeft - 28, cy, o.color);
      ctx.fillStyle = '#000';
      ctx.font = 'bold 25px ' + FONT;
      ctx.fillText(t, textLeft, cy + 9);
    });
    ctx.restore();
  }
};

function makeChart(id, top, bottom, sets, letter, labels, color) {
  const canvas = document.getElementById(id);
  return new Chart(canvas, {
    type: 'scatter',
    data: { datasets: sets },
    options: {
      responsive: false,
      animation: false,
      devicePixelRatio: 1,
      events: [],
      layout: {
        autoPadding: false,
        padding: { left: 120.5, right: 893 - 869.5, top: top, bottom: canvas.height - bottom }
      },
      scales: {
        x: {
          type: 'logarithmic',
          min: 0.1, max: 100,
          afterFit: s => { s.height = 0; },
          afterBuildTicks: s => { s.ticks = xTickValues.map(v => ({ value: v })); },
          ticks: { display: false },
          grid: { display: true, drawOnChartArea: false, drawTicks: true, tickLength: 6, tickWidth: 1.4, tickColor: '#000' },
          border: { display: true, color: '#000', width: 2 }
        },
        y: {
          type: 'logarithmic',
          min: 1e-5, max: 1,
          afterFit: s => { s.width = 0; },
          afterBuildTicks: s => { s.ticks = yTickValues.map(v => ({ value: v })); },
          ticks: { display: false },
          grid: { display: true, drawOnChartArea: false, drawTicks: true, tickLength: 8, tickWidth: 1.4, tickColor: '#000' },
          border: { display: true, color: '#000', width: 2 }
        }
      },
      plugins: {
        legend: { display: false },
        tooltip: { enabled: false },
        axisDeco: { letter: letter, labels: labels, color: color }
      }
    },
    plugins: [axisDeco]
  });
}

// black drawn first, blue on top (higher order = drawn earlier)
makeChart('chartA', 34, 437.3, [
  series('black triangle', blackTriA, 'triangle', BLACK, 3),
  series('black square', blackSqA, 'rect', BLACK, 3),
  series('black circle', blackCircA, 'circle', BLACK, 3),
  series('red triangle', redTriA, 'triangle', RED, 2),
  series('red square', redSqA, 'rect', RED, 2),
  series('red circle', redCircA, 'circle', RED, 2),
  series('blue triangle', blueTriA, 'triangle', BLUE, 1),
  series('blue square', blueSqA, 'rect', BLUE, 1),
  series('blue circle', blueCircA, 'circle', BLUE, 1)
], 'A', legendA, BLACK);

makeChart('chartB', 36, 437.5, [
  series('black triangle', blackTriB, 'triangle', BLACK, 3),
  series('black square', blackSqB, 'rect', BLACK, 3),
  series('black circle', blackCircB, 'circle', BLACK, 3),
  series('red triangle', redTriB, 'triangle', RED, 2),
  series('red square', redSqB, 'rect', RED, 2),
  series('red circle', redCircB, 'circle', RED, 2),
  series('blue triangle', blueTriB, 'triangle', BLUE, 1),
  series('blue square', blueSqB, 'rect', BLUE, 1),
  series('blue circle', blueCircB, 'circle', BLUE, 1)
], 'B', legendB, RED);

makeChart('chartC', 35.5, 438, [
  series('black triangle', blackTriC, 'triangle', BLACK, 3),
  series('black square', blackSqC, 'rect', BLACK, 3),
  series('black circle', blackCircC, 'circle', BLACK, 3),
  series('red triangle', redTriC, 'triangle', RED, 2),
  series('red square', redSqC, 'rect', RED, 2),
  series('red circle', redCircC, 'circle', RED, 2),
  series('blue triangle', blueTriC, 'triangle', BLUE, 1),
  series('blue square', blueSqC, 'rect', BLUE, 1),
  series('blue circle', blueCircC, 'circle', BLUE, 1)
], 'C', legendC, BLUE);
</script>
</body>
</html>
